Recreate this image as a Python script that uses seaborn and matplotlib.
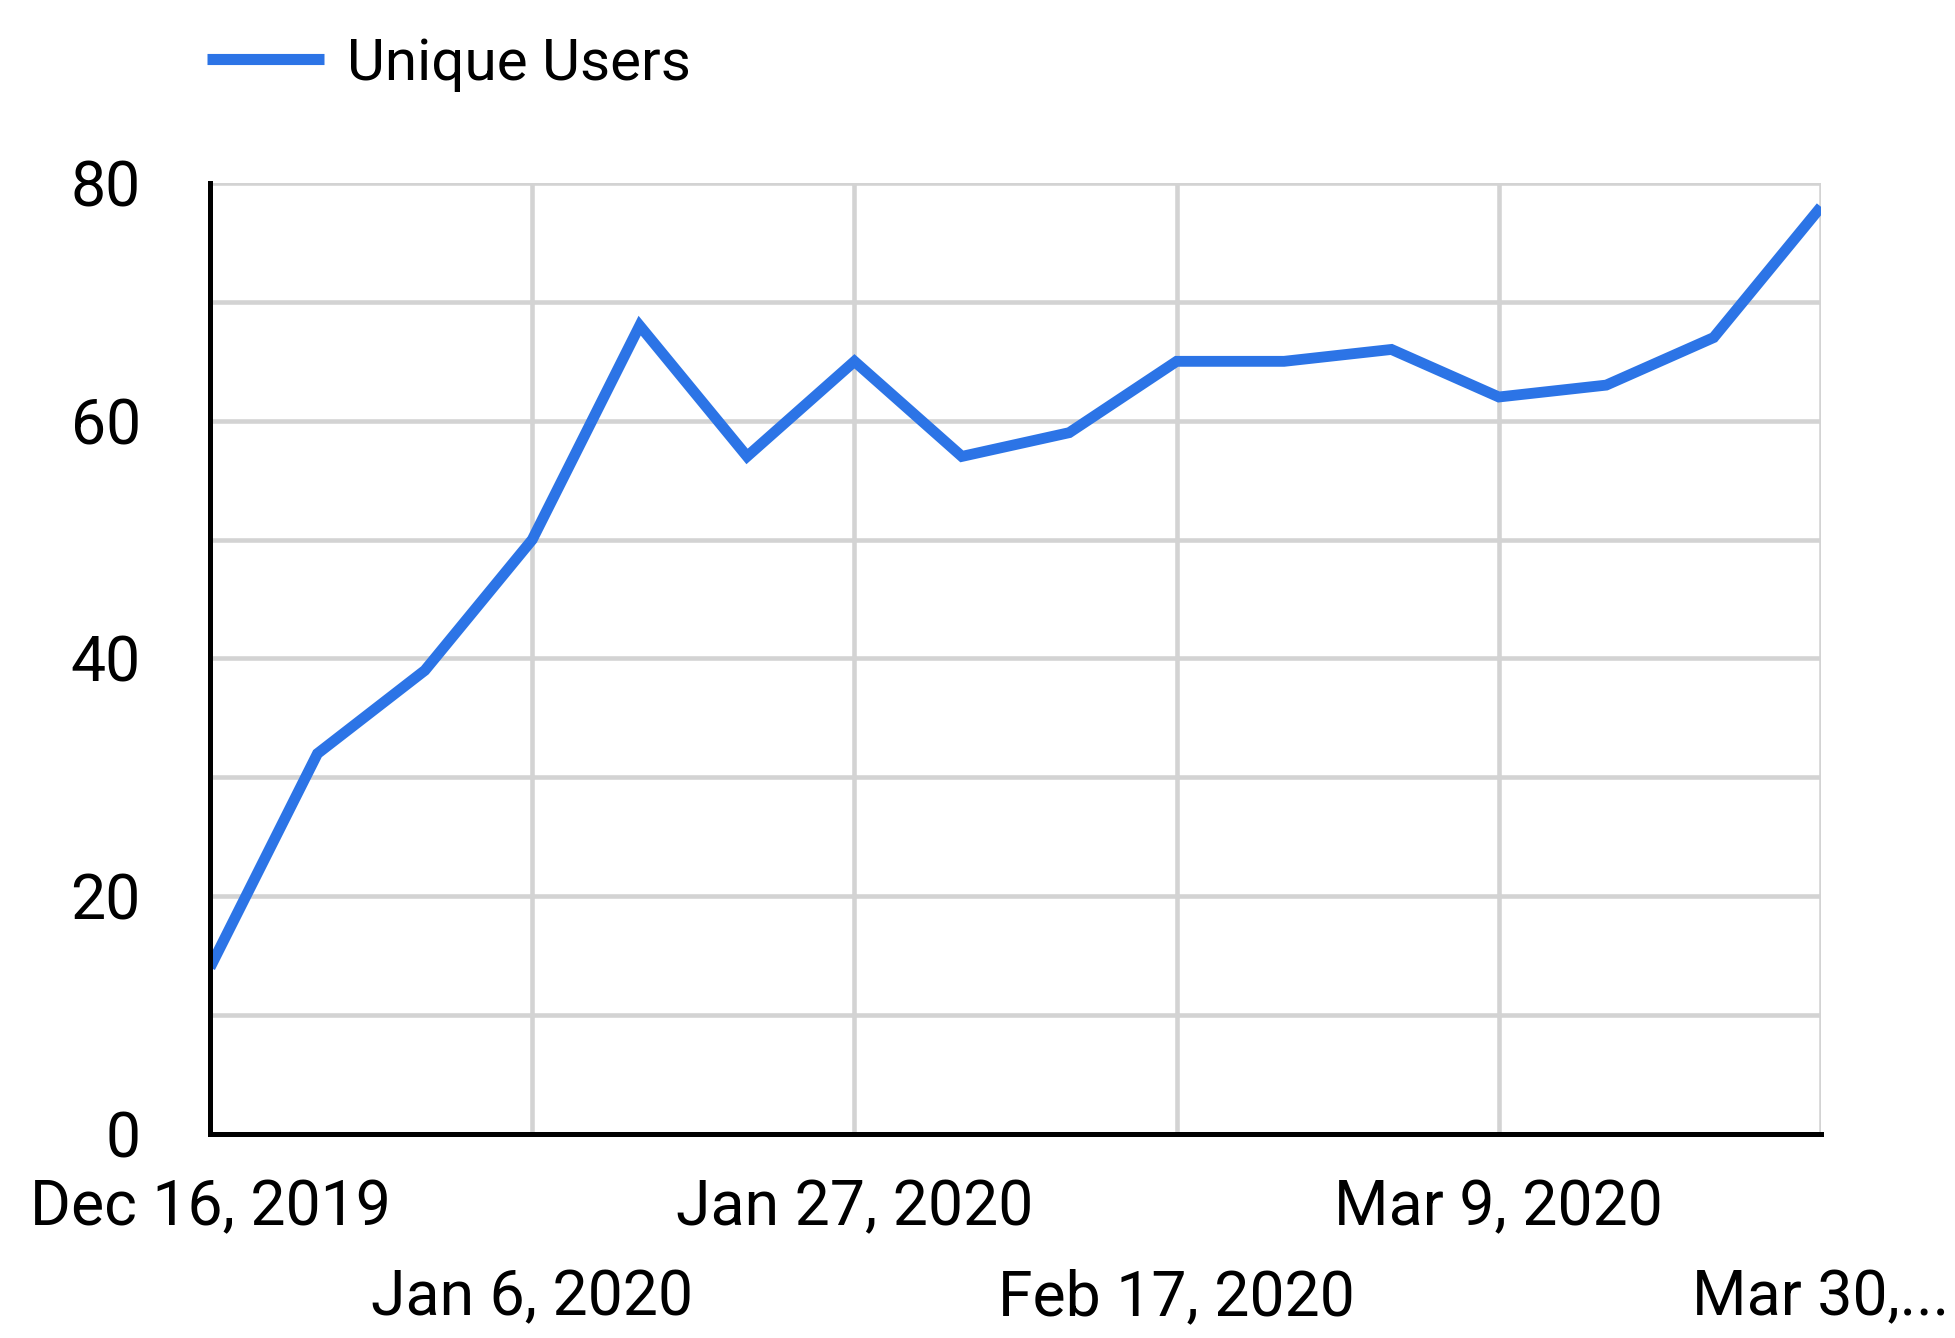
import matplotlib
matplotlib.use("Agg")
import matplotlib.pyplot as plt
import numpy as np
import pandas as pd
import seaborn as sns

weeks = ["2019-12-16", "2019-12-23", "2019-12-30", "2020-01-06", "2020-01-13",
         "2020-01-20", "2020-01-27", "2020-02-03", "2020-02-10", "2020-02-17",
         "2020-02-24", "2020-03-02", "2020-03-09", "2020-03-16", "2020-03-23",
         "2020-03-30"]
unique_users = [14, 32, 39, 50, 68, 57, 65, 57, 59, 65, 65, 66, 62, 63, 67, 78]

tick_weeks = ["2019-12-16", "2020-01-06", "2020-01-27", "2020-02-17", "2020-03-09", "2020-03-30"]
tick_labels = ["Dec 16, 2019", "Jan 6, 2020", "Jan 27, 2020", "Feb 17, 2020", "Mar 9, 2020", "Mar 30,..."]

df = pd.DataFrame({"week": pd.to_datetime(weeks), "Unique Users": unique_users})

sns.set_style("white")
plt.rcParams['font.family'] = ['Roboto', 'DejaVu Sans']

fig = plt.figure(figsize=(19.56, 13.38), dpi=100)
ax = fig.add_axes([0.1074, 0.1525, 0.8236, 0.7107])

sns.lineplot(data=df, x="week", y="Unique Users", color="#2c74e6", linewidth=7.8,
             label="Unique Users", ax=ax, zorder=3)
for line in ax.get_lines():
    line.set_solid_joinstyle("miter")
    line.set_solid_capstyle("butt")

ax.set_xlim(pd.Timestamp(weeks[0]), pd.Timestamp(weeks[-1]))
ax.set_ylim(0, 80)
ax.set_yticks(np.arange(0, 81, 20))
ax.set_yticks(np.arange(10, 80, 20), minor=True)
ax.set_xticks(pd.to_datetime(tick_weeks))
ax.set_xticklabels(tick_labels)

ax.grid(True, which="both", color="#d3d3d3", linewidth=3.3)
ax.set_axisbelow(True)
ax.tick_params(axis="both", which="both", length=0, labelsize=45, colors="black")
ax.tick_params(axis="y", pad=50)

for i, tick in enumerate(ax.xaxis.get_major_ticks()):
    tick.set_pad(32 if i % 2 == 0 else 97)

ax.set_xlabel("")
ax.set_ylabel("")

for side in ["top", "right"]:
    ax.spines[side].set_visible(False)
for side in ["left", "bottom"]:
    ax.spines[side].set_color("black")
    ax.spines[side].set_linewidth(3.6)
    ax.spines[side].set_zorder(4)

ax.get_legend().remove()
fig.legend(loc="center left", bbox_to_anchor=(0.106, 0.952), frameon=False,
           fontsize=42, handlelength=2.0, handletextpad=0.39, labelcolor="black",
           borderpad=0, borderaxespad=0)
for line in fig.legends[0].get_lines():
    line.set_linewidth(8)
    line.set_solid_capstyle("butt")

fig.savefig("out.png", dpi=100)
